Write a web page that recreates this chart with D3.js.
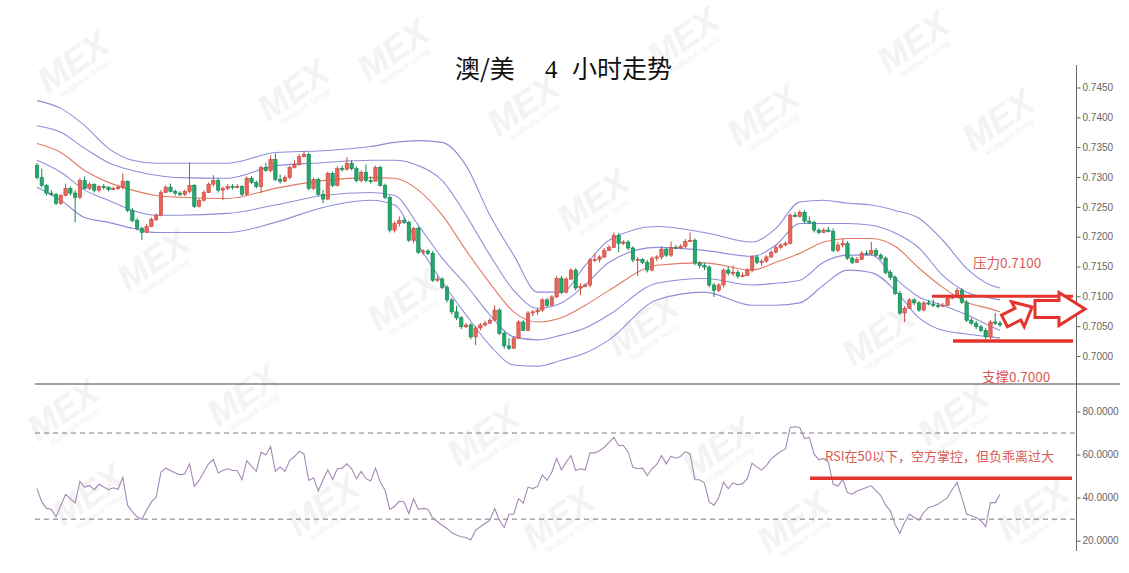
<!DOCTYPE html>
<html><head><meta charset="utf-8">
<script src="https://cdn.jsdelivr.net/npm/d3@7"></script>
<style>body{margin:0;background:#fff}svg{display:block}</style>
</head><body>
<svg id="c" width="1129" height="573"></svg>
<script>
// ---------- DATA ----------
const closes = [.7299,.7286,.7273,.7271,.7256,.7269,.7281,.7273,.7266,.7294,
.7281,.7288,.7278,.7284,.7283,.7279,.7281,.7283,.7293,.7244,
.7227,.7214,.7207,.7217,.7229,.7236,.7274,.7283,.7276,.7273,
.7271,.7276,.7286,.7251,.7261,.7274,.7288,.7294,.7278,.7281,
.7284,.7283,.7284,.7271,.7298,.7291,.7284,.7316,.7311,.7329,
.7296,.7293,.7299,.7316,.7321,.7334,.7338,.7281,.7296,.7271,
.7263,.7306,.7286,.7314,.7313,.7323,.7314,.7294,.7308,.7294,
.7293,.7316,.7286,.7266,.7211,.7222,.7227,.7224,.7194,.7214,
.7174,.7176,.7172,.7127,.7129,.7115,.7094,.7074,.7064,.7049,
.7052,.7032,.7047,.7052,.7055,.7060,.7077,.7038,.7017,.7013,
.7030,.7057,.7043,.7072,.7074,.7077,.7094,.7085,.7099,.7130,
.7107,.7129,.7144,.7114,.7117,.7119,.7161,.7162,.7166,.7177,
.7182,.7202,.7189,.7191,.7181,.7161,.7162,.7157,.7144,.7164,
.7166,.7179,.7169,.7182,.7181,.7184,.7192,.7194,.7156,.7152,
.7149,.7119,.7110,.7119,.7144,.7139,.7140,.7134,.7135,.7144,
.7166,.7157,.7159,.7166,.7174,.7182,.7186,.7189,.7236,.7234,
.7241,.7226,.7224,.7211,.7207,.7211,.7209,.7177,.7186,.7189,
.7164,.7157,.7162,.7172,.7171,.7177,.7169,.7164,.7140,.7132,
.7105,.7072,.7080,.7094,.7089,.7077,.7089,.7087,.7085,.7084,
.7085,.7097,.7099,.7110,.7090,.7060,.7055,.7049,.7043,.7032,
.7057,.7055,.7052];
const opens = [.7319,.7299,.7286,.7273,.7271,.7256,.7269,.7281,.7273,.7266,
.7294,.7281,.7288,.7278,.7284,.7283,.7279,.7281,.7283,.7293,
.7244,.7227,.7214,.7207,.7217,.7229,.7236,.7274,.7283,.7276,
.7273,.7271,.7276,.7286,.7251,.7261,.7274,.7288,.7294,.7278,
.7281,.7284,.7283,.7284,.7271,.7298,.7291,.7284,.7316,.7311,
.7329,.7296,.7293,.7299,.7316,.7321,.7334,.7338,.7281,.7296,
.7271,.7263,.7306,.7286,.7314,.7313,.7323,.7314,.7294,.7308,
.7294,.7293,.7316,.7286,.7266,.7211,.7222,.7227,.7224,.7194,
.7214,.7174,.7176,.7172,.7127,.7129,.7115,.7094,.7074,.7064,
.7049,.7052,.7032,.7047,.7052,.7055,.7060,.7077,.7038,.7017,
.7013,.7030,.7057,.7043,.7072,.7074,.7077,.7094,.7085,.7099,
.7130,.7107,.7129,.7144,.7114,.7117,.7119,.7161,.7162,.7166,
.7177,.7182,.7202,.7189,.7191,.7181,.7161,.7162,.7157,.7144,
.7164,.7166,.7179,.7169,.7182,.7181,.7184,.7192,.7194,.7156,
.7152,.7149,.7119,.7110,.7119,.7144,.7139,.7140,.7134,.7135,
.7144,.7166,.7157,.7159,.7166,.7174,.7182,.7186,.7189,.7236,
.7234,.7241,.7226,.7224,.7211,.7207,.7211,.7209,.7177,.7186,
.7189,.7164,.7157,.7162,.7172,.7171,.7177,.7169,.7164,.7140,
.7132,.7105,.7072,.7080,.7094,.7089,.7077,.7089,.7087,.7085,
.7084,.7085,.7097,.7099,.7110,.7090,.7060,.7055,.7049,.7043,
.7032,.7057,.7055];
const highs = [.7324,.7314,.7288,.7278,.7273,.7271,.7289,.7284,.7278,.7298,
.7301,.7291,.7289,.7286,.7288,.7284,.7284,.7286,.7306,.7294,
.7248,.7231,.7217,.7221,.7232,.7239,.7278,.7286,.7289,.7279,
.7276,.7279,.7324,.7288,.7264,.7278,.7291,.7303,.7298,.7284,
.7288,.7288,.7288,.7286,.7301,.7301,.7294,.7319,.7324,.7336,
.7339,.7304,.7303,.7319,.7328,.7338,.7344,.7341,.7299,.7299,
.7278,.7309,.7309,.7318,.7319,.7333,.7328,.7318,.7311,.7321,
.7301,.7319,.7319,.7289,.7269,.7226,.7234,.7232,.7227,.7217,
.7217,.7179,.7179,.7176,.7134,.7132,.7119,.7097,.7084,.7067,
.7055,.7055,.7050,.7055,.7059,.7064,.7085,.7080,.7042,.7030,
.7033,.7060,.7060,.7075,.7077,.7080,.7097,.7097,.7102,.7134,
.7134,.7132,.7147,.7147,.7122,.7122,.7164,.7172,.7169,.7181,
.7186,.7207,.7206,.7194,.7194,.7184,.7166,.7164,.7161,.7167,
.7169,.7184,.7182,.7192,.7186,.7187,.7196,.7207,.7197,.7159,
.7156,.7152,.7122,.7122,.7147,.7149,.7152,.7144,.7140,.7147,
.7169,.7169,.7162,.7169,.7177,.7186,.7189,.7192,.7239,.7241,
.7244,.7244,.7234,.7227,.7214,.7214,.7216,.7214,.7191,.7197,
.7192,.7167,.7166,.7176,.7177,.7191,.7181,.7172,.7167,.7144,
.7135,.7109,.7084,.7097,.7097,.7092,.7092,.7094,.7095,.7089,
.7089,.7100,.7104,.7114,.7114,.7094,.7064,.7059,.7052,.7047,
.7060,.7072,.7059];
const lows = [.7296,.7283,.7269,.7268,.7253,.7253,.7268,.7269,.7224,.7263,
.7279,.7278,.7274,.7274,.7279,.7276,.7278,.7278,.7279,.7241,
.7224,.7211,.7194,.7206,.7216,.7226,.7234,.7273,.7274,.7269,
.7268,.7268,.7273,.7248,.7249,.7259,.7273,.7284,.7274,.7261,
.7278,.7279,.7281,.7268,.7269,.7288,.7281,.7273,.7309,.7308,
.7293,.7289,.7291,.7296,.7314,.7319,.7333,.7278,.7278,.7268,
.7256,.7261,.7283,.7284,.7309,.7311,.7311,.7291,.7291,.7291,
.7289,.7293,.7284,.7263,.7207,.7207,.7217,.7221,.7191,.7189,
.7171,.7169,.7169,.7124,.7124,.7112,.7090,.7070,.7060,.7045,
.7047,.7028,.7018,.7043,.7049,.7054,.7059,.7035,.7012,.7010,
.7012,.7028,.7042,.7042,.7067,.7069,.7074,.7082,.7084,.7097,
.7104,.7105,.7127,.7110,.7102,.7115,.7115,.7157,.7157,.7164,
.7176,.7181,.7174,.7186,.7177,.7157,.7134,.7154,.7140,.7142,
.7159,.7162,.7166,.7166,.7179,.7179,.7181,.7191,.7152,.7147,
.7144,.7115,.7099,.7107,.7115,.7135,.7134,.7130,.7132,.7134,
.7140,.7154,.7151,.7156,.7164,.7172,.7179,.7184,.7187,.7232,
.7232,.7222,.7221,.7207,.7204,.7206,.7207,.7174,.7174,.7182,
.7161,.7154,.7156,.7161,.7169,.7169,.7167,.7161,.7137,.7127,
.7102,.7069,.7057,.7079,.7085,.7074,.7075,.7085,.7082,.7080,
.7082,.7084,.7095,.7097,.7087,.7057,.7052,.7045,.7040,.7028,
.7028,.7052,.7049];

// Bollinger band readings (candle index -> value)
const bandIdx   = [0,5,10,15,20,25,30,40,50,60,70,75,80,85,90,95,100,105,110,115,120,130,140,150,155,160,165,170,175,180,185,190,195,200,202];
const bbOuterUp = [.7428,.7415,.7386,.7348,.7328,.7323,.7323,.7323,.7341,.7344,.7351,.7358,.7361,.7358,.7319,.7236,.7169,.7107,.7107,.7152,.7194,.7217,.7207,.7191,.7214,.7258,.7261,.7256,.7253,.7244,.7231,.7194,.7147,.7119,.7114];
const bbInnerUp = [.7386,.7375,.7348,.7324,.7311,.7303,.7299,.7298,.7319,.7324,.7328,.7328,.7319,.7294,.7236,.7169,.7110,.7080,.7089,.7119,.7157,.7182,.7177,.7167,.7186,.7222,.7222,.7222,.7219,.7206,.7181,.7135,.7107,.7097,.7094];
const bbMid     = [.7356,.7341,.7311,.7291,.7278,.7269,.7266,.7264,.7281,.7294,.7299,.7298,.7278,.7236,.7177,.7122,.7074,.7057,.7064,.7085,.7110,.7152,.7156,.7144,.7157,.7172,.7191,.7197,.7197,.7184,.7147,.7115,.7090,.7079,.7074];
const bbInnerLo = [.7328,.7308,.7278,.7261,.7244,.7236,.7236,.7239,.7253,.7269,.7274,.7269,.7219,.7164,.7119,.7069,.7032,.7027,.7035,.7047,.7069,.7122,.7130,.7119,.7122,.7127,.7157,.7169,.7169,.7130,.7099,.7085,.7069,.7050,.7043];
const bbOuterLo = [.7283,.7261,.7232,.7224,.7214,.7207,.7207,.7207,.7224,.7249,.7261,.7253,.7186,.7124,.7069,.7018,.6985,.6983,.6993,.7005,.7027,.7094,.7107,.7085,.7085,.7089,.7119,.7144,.7140,.7110,.7064,.7043,.7037,.7032,.7030];

const rsi = [44.2,38.0,35.0,34.5,31.1,36.5,41.5,39.5,37.5,47.5,
44.9,45.7,43.7,46.2,44.9,43.7,44.6,43.9,49.5,36.5,
33.4,31.1,30.0,34.2,38.0,40.3,51.9,53.7,52.6,51.4,
50.6,51.1,55.7,45.2,48.0,51.9,55.7,57.7,51.5,52.6,
53.4,52.6,52.6,48.3,57.2,54.5,52.2,61.1,59.8,63.7,
52.3,54.2,52.2,57.2,59.1,61.5,60.3,48.0,49.2,43.1,
48.3,52.9,48.3,53.4,53.7,55.7,53.4,48.8,52.2,48.8,
47.7,53.7,47.2,43.4,34.5,36.0,38.3,38.0,32.6,39.5,
34.5,35.0,34.6,30.5,28.8,27.2,25.7,23.7,22.6,21.8,
21.5,20.3,24.9,26.5,28.0,29.5,34.9,29.5,26.2,32.3,
32.3,39.5,37.5,44.9,44.2,45.2,50.6,48.0,51.9,58.3,
52.9,56.5,59.5,52.6,53.4,52.9,60.8,60.8,61.8,63.4,
65.7,68.0,64.2,64.2,61.1,54.2,53.4,53.7,50.3,53.4,
55.4,59.5,55.7,59.2,58.3,59.1,61.4,60.3,48.3,48.3,
46.8,38.0,36.5,39.9,47.2,44.2,46.8,46.0,46.5,48.8,
56.0,54.2,52.9,54.9,58.0,59.8,61.4,62.6,72.6,72.9,
72.6,67.5,68.0,60.3,57.5,58.2,56.5,46.2,45.4,48.5,
42.4,41.6,43.1,43.9,44.7,45.5,43.1,41.0,36.5,33.9,
27.5,23.5,28.5,32.4,30.8,29.5,33.1,35.4,36.0,37.0,
38.5,40.0,43.9,47.0,40.0,32.4,31.6,30.8,29.3,26.5,
37.7,37.7,41.6];

const priceTicks = [0.7000,0.7050,0.7100,0.7150,0.7200,0.7250,0.7300,0.7350,0.7400,0.7450];
const rsiTicks = [20,40,60,80];
const rsiLevels = [70,30];
const titleParts = ["澳/美", "4", "小时走势"];
const resistLabel = "压力0.7100";
const supportLabel = "支撑0.7000";
const resistLevel = 0.7100, supportLevel = 0.7025;
const rsiNote = "RSI在50以下，空方掌控，但负乖离过大";
const rsiNoteLevel = 49;
const wmPos = [[80,72],[300,100],[400,60],[530,115],[690,48],[770,125],[920,52],[1005,130],[600,210],[160,270],[410,310],[650,335],[885,345],[70,420],[250,405],[490,445],[725,458],[960,425],[95,505],[330,515],[565,528],[800,532],[1040,520]];

// ---------- CHART ----------
const W = 1129, H = 573;
const svg = d3.select('#c');
svg.append('rect').attr('width', W).attr('height', H).attr('fill', '#fff');

// watermarks
const wm = svg.append('g').attr('pointer-events','none');
wmPos.forEach(([wx, wy]) => {
  const g = wm.append('g').attr('transform', `translate(${wx},${wy}) rotate(-35)`);
  g.append('text').text('MEX').attr('text-anchor','middle')
    .attr('font-family','Liberation Sans, Arial, sans-serif').attr('font-weight','bold')
    .attr('font-style','italic').attr('font-size',36).attr('fill','#f3f3f3');
  g.append('text').text('Multibank Group').attr('y',11).attr('text-anchor','middle')
    .attr('font-family','Liberation Sans, Arial, sans-serif').attr('font-size',8).attr('fill','#f1f1f1');
});

const x = d3.scaleLinear().domain([0, 202]).range([37, 1000]);
const yP = d3.scaleLinear().domain([0.7, 0.745]).range([356, 87.5]);
const yR = d3.scaleLinear().domain([20, 80]).range([540.7, 411.5]);

// title
const title = svg.append('text').attr('y', 78).attr('font-size', 25).attr('fill', '#111');
title.append('tspan').attr('x', 455).attr('font-family', 'Noto Sans CJK SC, sans-serif').text(titleParts[0]);
title.append('tspan').attr('x', 545).attr('font-family', 'Liberation Serif, DejaVu Serif, serif').text(titleParts[1]);
title.append('tspan').attr('x', 572).attr('font-family', 'Noto Sans CJK SC, sans-serif').text(titleParts[2]);

// clip
svg.append('clipPath').attr('id','pclip').append('rect').attr('x',34).attr('y',60).attr('width',1042).attr('height',323);
const pg = svg.append('g').attr('clip-path','url(#pclip)');

// bands
const bands = [
  {v: bbOuterUp, c: '#8d8fd8'}, {v: bbInnerUp, c: '#8d8fd8'},
  {v: bbMid, c: '#e27a66'},
  {v: bbInnerLo, c: '#8d8fd8'}, {v: bbOuterLo, c: '#8d8fd8'}
];
const bl = d3.line().x(d => x(d[0])).y(d => yP(d[1])).curve(d3.curveMonotoneX);
bands.forEach(b => {
  pg.append('path').datum(bandIdx.map((k, j) => [k, b.v[j]]))
    .attr('d', bl).attr('fill','none').attr('stroke', b.c).attr('stroke-width', 1.1);
});

// candles
const cw = 3.4;
const cg = pg.append('g');
closes.forEach((c, i) => {
  const o = opens[i], up = c >= o;
  const fill = up ? '#e8655a' : '#23a76a';
  const stroke = up ? '#c8483e' : '#128552';
  const cx = x(i);
  cg.append('line').attr('x1', cx).attr('x2', cx).attr('y1', yP(highs[i])).attr('y2', yP(lows[i]))
    .attr('stroke', stroke).attr('stroke-width', 1);
  const y1 = yP(Math.max(o, c)), y2 = yP(Math.min(o, c));
  cg.append('rect').attr('x', cx - cw/2).attr('y', y1).attr('width', cw).attr('height', Math.max(1, y2 - y1))
    .attr('fill', fill).attr('stroke', stroke).attr('stroke-width', 0.6);
});

// separator
svg.append('line').attr('x1', 35).attr('x2', 1120).attr('y1', 384).attr('y2', 384).attr('stroke', '#444').attr('stroke-width', 1);

// axis
const axisX = 1076.5;
svg.append('line').attr('x1', axisX).attr('x2', axisX).attr('y1', 65).attr('y2', 551).attr('stroke', '#666').attr('stroke-width', 1);
const ax1 = svg.append('g').attr('transform', `translate(${axisX},0)`)
  .call(d3.axisRight(yP).tickValues(priceTicks).tickFormat(d3.format('.4f')).tickSize(4).tickPadding(2));
const ax2 = svg.append('g').attr('transform', `translate(${axisX},0)`)
  .call(d3.axisRight(yR).tickValues(rsiTicks).tickFormat(d3.format('.4f')).tickSize(4).tickPadding(2));
[ax1, ax2].forEach(a => {
  a.select('.domain').remove();
  a.selectAll('line').attr('stroke', '#666');
  a.selectAll('text').attr('fill', '#666').attr('font-size', 10).attr('font-family', 'Liberation Sans, Arial, sans-serif');
});

// RSI levels
rsiLevels.forEach(l => {
  svg.append('line').attr('x1', 35).attr('x2', axisX).attr('y1', yR(l)).attr('y2', yR(l))
    .attr('stroke', '#7a7a7a').attr('stroke-width', 1).attr('stroke-dasharray', '5,4');
});
// RSI line
svg.append('path').datum(rsi).attr('fill','none').attr('stroke','#a688b6').attr('stroke-width',1.1)
  .attr('d', d3.line().x((d,i) => x(i)).y(d => yR(d)));

// annotations
const red = '#e5332d', txt = '#d85a55';
svg.append('line').attr('x1', 932).attr('x2', 1073).attr('y1', yP(resistLevel)).attr('y2', yP(resistLevel)).attr('stroke', red).attr('stroke-width', 3);
svg.append('line').attr('x1', 953).attr('x2', 1073).attr('y1', yP(supportLevel)).attr('y2', yP(supportLevel)).attr('stroke', red).attr('stroke-width', 3.5);
svg.append('text').attr('x', 973).attr('y', 268).attr('font-size', 13.5).attr('fill', txt)
  .attr('font-family','Noto Sans CJK SC, sans-serif').text(resistLabel);
svg.append('text').attr('x', 982).attr('y', 382).attr('font-size', 13.5).attr('fill', txt)
  .attr('font-family','Noto Sans CJK SC, sans-serif').text(supportLabel);
svg.append('line').attr('x1', 810).attr('x2', 1072).attr('y1', yR(rsiNoteLevel)).attr('y2', yR(rsiNoteLevel)).attr('stroke', red).attr('stroke-width', 3.5);
svg.append('text').attr('x', 825).attr('y', 461).attr('font-size', 13).attr('fill', txt)
  .attr('font-family','Noto Sans CJK SC, sans-serif').text(rsiNote);

function blockArrow(L, s, h, hl) {
  return [[0,-s],[L-hl,-s],[L-hl,-h],[L,0],[L-hl,h],[L-hl,s],[0,s]];
}
svg.append('polygon').attr('points', blockArrow(31, 6.5, 14, 16).join(' '))
  .attr('transform', 'translate(1004.5,321) rotate(-27)')
  .attr('fill', '#fff').attr('stroke', red).attr('stroke-width', 3).attr('stroke-linejoin','miter');
svg.append('polygon').attr('points', blockArrow(50, 8.5, 16.5, 26).join(' '))
  .attr('transform', 'translate(1035,309)')
  .attr('fill', '#fff').attr('stroke', red).attr('stroke-width', 3).attr('stroke-linejoin','miter');
</script>
</body></html>
